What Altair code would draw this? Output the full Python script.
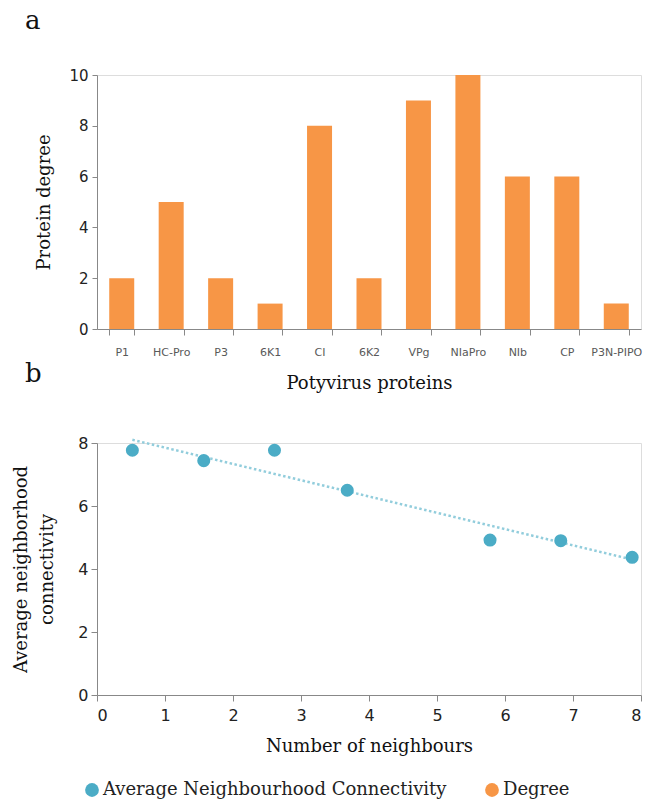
import altair as alt
import pandas as pd

# ---- data ----
proteins = ["P1", "HC-Pro", "P3", "6K1", "CI", "6K2", "VPg", "NIaPro", "NIb", "CP", "P3N-PIPO"]
degree = [2, 5, 2, 1, 8, 2, 9, 10, 6, 6, 1]

neighbours = [0.52, 1.57, 2.61, 3.68, 5.78, 6.82, 7.87]
connectivity = [7.77, 7.44, 7.77, 6.50, 4.92, 4.90, 4.37]

series_names = ["Average Neighbourhood Connectivity", "Degree"]
series_colors = ["#4BACC6", "#F79646"]

SERIF = "DejaVu Serif"
SANS = "DejaVu Sans"

bars_df = pd.DataFrame({"protein": proteins, "degree": degree, "series": series_names[1]})
pts_df = pd.DataFrame({"x": neighbours, "y": connectivity, "series": series_names[0]})

color_scale = alt.Scale(domain=series_names, range=series_colors)
legend = alt.Legend(
    title=None, orient="none", direction="horizontal", legendX=-14, legendY=706,
    symbolType="circle", symbolSize=190, symbolStrokeWidth=0,
    labelFont=SERIF, labelFontSize=18, labelColor="#222222", labelOffset=2,
    columnPadding=36, labelLimit=500,
)

W = 544

# ---- panel a ----
bars = alt.Chart(bars_df).mark_bar(size=25).encode(
    x=alt.X("protein:N", sort=proteins, title="Potyvirus proteins",
            scale=alt.Scale(paddingInner=0.5, paddingOuter=0.25),
            axis=alt.Axis(labelAngle=0, labelFont=SANS, labelFontSize=11, labelColor="#595959",
                          labelPadding=11, tickBand="extent", tickSize=6, tickColor="#888888",
                          domainColor="#888888", titleFont=SERIF, titleFontSize=18,
                          titleFontWeight="normal", titleColor="#111111", titlePadding=17)),
    y=alt.Y("degree:Q", title="Protein degree",
            scale=alt.Scale(domain=[0, 10]),
            axis=alt.Axis(values=[0, 2, 4, 6, 8, 10], grid=False, labelFont=SANS, labelFontSize=15,
                          labelColor="#222222", labelPadding=4, tickSize=5, tickColor="#888888",
                          domainColor="#888888", titleFont=SERIF, titleFontSize=18,
                          titleFontWeight="normal", titleColor="#111111", titlePadding=15)),
    color=alt.Color("series:N", scale=color_scale, legend=legend),
)

lab_a = alt.Chart(pd.DataFrame({"t": ["a"]})).mark_text(
    font=SERIF, fontSize=26, align="left", baseline="alphabetic", color="#111111"
).encode(text="t:N", x=alt.value(-72), y=alt.value(-46))

lab_b = alt.Chart(pd.DataFrame({"t": ["b"]})).mark_text(
    font=SERIF, fontSize=26, align="left", baseline="alphabetic", color="#111111"
).encode(text="t:N", x=alt.value(-72), y=alt.value(53 + 254))

top = alt.layer(bars, lab_a, lab_b).properties(width=W, height=254)

# ---- panel b ----
base = alt.Chart(pts_df)
trend = base.transform_regression("x", "y").mark_line(
    color="#92CDDC", strokeWidth=2.5, strokeDash=[2.5, 2.5]
).encode(x="x:Q", y="y:Q")

points = base.mark_circle(size=170, opacity=1).encode(
    x=alt.X("x:Q", title="Number of neighbours", scale=alt.Scale(domain=[0, 8]),
            axis=alt.Axis(values=list(range(9)), format="d", grid=False, labelFont=SANS,
                          labelFontSize=16, labelColor="#222222", labelPadding=6, tickSize=6,
                          tickColor="#888888", domainColor="#888888", titleFont=SERIF,
                          titleFontSize=18, titleFontWeight="normal", titleColor="#111111",
                          titlePadding=14)),
    y=alt.Y("y:Q", title=["Average neighborhood", "connectivity"], scale=alt.Scale(domain=[0, 8]),
            axis=alt.Axis(values=[0, 2, 4, 6, 8], format="d", grid=False, labelFont=SANS,
                          labelFontSize=16, labelColor="#222222", labelPadding=3, tickSize=6,
                          tickColor="#888888", domainColor="#888888", titleFont=SERIF,
                          titleFontSize=18, titleFontWeight="normal", titleColor="#111111",
                          titlePadding=21, titleLineHeight=26)),
    color=alt.Color("series:N", scale=color_scale, legend=legend),
)

bottom = alt.layer(trend, points).properties(width=W, height=252)

chart = alt.vconcat(top, bottom, spacing=41).resolve_scale(color="shared").properties(
    padding={"left": 12, "top": 7, "right": 0, "bottom": 0}
).configure_view(stroke=None).configure(background="white")

chart.save("out.html", embed_options={"renderer": "svg", "actions": False})
